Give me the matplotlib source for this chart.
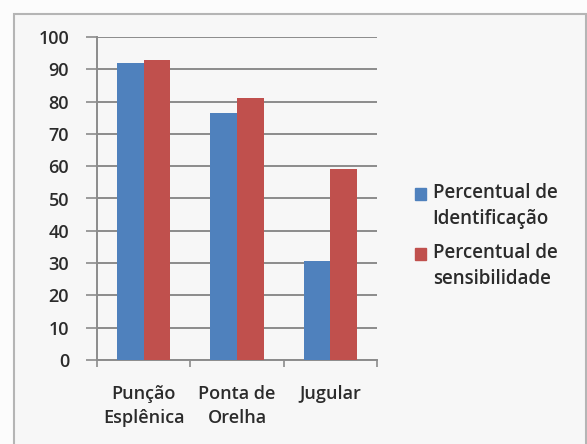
import matplotlib
matplotlib.use("Agg")
import matplotlib.pyplot as plt
from matplotlib.patches import Rectangle, Patch
from matplotlib.legend_handler import HandlerPatch
import numpy as np

categories = ["Punção\nEsplênica", "Ponta de\nOrelha", "Jugular"]
identificacao = [92, 76.5, 30.5]
sensibilidade = [93, 81, 59]
series_labels = ["Percentual de\nIdentificação", "Percentual de\nsensibilidade"]
yticks = [0, 10, 20, 30, 40, 50, 60, 70, 80, 90, 100]

W, H = 587, 444
plt.rcParams['font.family'] = ['Open Sans', 'DejaVu Sans']
fig = plt.figure(figsize=(W / 100, H / 100), dpi=100)
fig.patch.set_facecolor('#fcfcfc')

# chart area frame
fig.patches.append(Rectangle((14 / W, -0.01), (W - 14 - 1) / W, (H - 14) / H + 0.01,
                             transform=fig.transFigure, facecolor='#f7f7f7',
                             edgecolor='#b5b5b5', linewidth=1.5, zorder=-5))

ax = fig.add_axes([97 / W, (H - 360) / H, (377 - 97) / W, (360 - 37) / H])
ax.set_zorder(2)
ax.set_facecolor('none')

x = np.arange(len(categories))
bw = 0.285
ax.bar(x - bw / 2, identificacao, bw, color='#4f81bd', zorder=3, label=series_labels[0])
ax.bar(x + bw / 2, sensibilidade, bw, color='#c0504d', zorder=3, label=series_labels[1])

ax.set_xlim(-0.5, 2.5)
ax.set_ylim(0, 100)
ax.set_yticks(yticks)
ax.yaxis.grid(True, color='#8c8c8c', linewidth=1.4, zorder=1)
ax.set_axisbelow(True)
for s in ['top', 'right']:
    ax.spines[s].set_visible(False)
for s in ['left', 'bottom']:
    ax.spines[s].set_color('#8c8c8c')
    ax.spines[s].set_linewidth(1.4)

ax.set_xticks([-0.5, 0.5, 1.5, 2.5])
ax.set_xticklabels([])
ax.tick_params(axis='x', length=5, width=1.2, color='#8c8c8c')
ax.tick_params(axis='y', length=8, width=1.2, color='#8c8c8c', labelsize=13,
               pad=12, labelcolor='#2b2b2b')
for lab in ax.get_yticklabels():
    lab.set_fontweight('semibold')

for xi, c in zip(x, categories):
    ax.annotate(c, xy=(xi, 0), xycoords=('data', 'axes fraction'),
                xytext=(0, -18), textcoords='offset points', ha='center', va='top',
                fontsize=13, color='#2b2b2b', linespacing=1.45, fontweight='semibold')


def top_square(legend, orig_handle, xdescent, ydescent, width, height, fontsize):
    shift = fontsize * 0.68
    return Rectangle((-xdescent, -ydescent + shift), width, height)


handles = [Patch(color='#4f81bd'), Patch(color='#c0504d')]
leg = fig.legend(handles, series_labels, loc='center left',
                 bbox_to_anchor=(398 / W, 1 - 236 / H), frameon=False,
                 handlelength=0.6, handleheight=0.6, handletextpad=0.35,
                 labelspacing=0.7, labelcolor='#2b2b2b',
                 prop={'weight': 'semibold', 'size': 13.5},
                 handler_map={Patch: HandlerPatch(patch_func=top_square)})
for t in leg.get_texts():
    t.set_linespacing(1.45)

fig.savefig('out.png', dpi=100, facecolor=fig.get_facecolor())
